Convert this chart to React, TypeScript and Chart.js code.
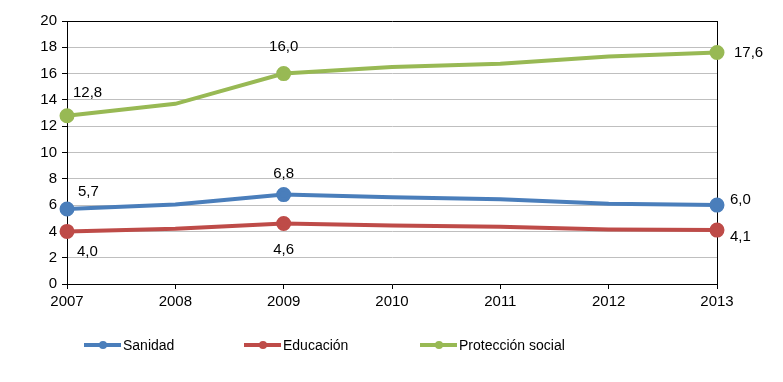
import React, { useEffect, useRef } from "react";
import { Chart, registerables } from "chart.js";

Chart.register(...registerables);

const years = ["2007", "2008", "2009", "2010", "2011", "2012", "2013"];
const sanidad = [5.7, 6.05, 6.8, 6.6, 6.45, 6.1, 6.0];
const educacion = [4.0, 4.2, 4.6, 4.45, 4.35, 4.15, 4.1];
const proteccion = [12.8, 13.7, 16.0, 16.5, 16.75, 17.3, 17.6];
const seriesNames = ["Sanidad", "Educación", "Protección social"];
const seriesColors = ["#4a7ebb", "#be4b48", "#98b954"];
const markerRadius = [5.5, 0, 5.5, 0, 0, 0, 5.5];

// label placement relative to the point: [series, index, dx, dy, align]
const valueLabels: [number, number, number, number, CanvasTextAlign][] = [
  [2, 0, 6, -23, "left"],
  [0, 0, 11, -17, "left"],
  [1, 0, 10, 20, "left"],
  [2, 2, 0, -27, "center"],
  [0, 2, 0, -21, "center"],
  [1, 2, 0, 26, "center"],
  [2, 6, 17, 0, "left"],
  [0, 6, 13, -5, "left"],
  [1, 6, 13, 7, "left"],
];

const FONT = "'Liberation Sans', Arial, sans-serif";

const labelPlugin = {
  id: "valueLabels",
  afterDatasetsDraw(chart: any) {
    const ctx = chart.ctx;
    ctx.save();
    ctx.font = `15px ${FONT}`;
    ctx.fillStyle = "#000";
    ctx.textBaseline = "middle";
    for (const [s, i, dx, dy, align] of valueLabels) {
      const pt = chart.getDatasetMeta(s).data[i];
      const v = chart.data.datasets[s].data[i] as number;
      ctx.textAlign = align;
      ctx.fillText(v.toFixed(1).replace(".", ","), pt.x + dx, pt.y + dy);
    }
    ctx.restore();
  },
};

const legendPlugin = {
  id: "customLegend",
  afterDraw(chart: any) {
    const ctx = chart.ctx;
    const starts = [84, 244, 420];
    const y = 345;
    ctx.save();
    ctx.font = `14px ${FONT}`;
    ctx.textBaseline = "middle";
    ctx.textAlign = "left";
    chart.data.datasets.forEach((ds: any, k: number) => {
      const x0 = starts[k];
      ctx.strokeStyle = ds.borderColor;
      ctx.lineWidth = 4;
      ctx.beginPath();
      ctx.moveTo(x0, y);
      ctx.lineTo(x0 + 37, y);
      ctx.stroke();
      ctx.fillStyle = ds.borderColor;
      ctx.beginPath();
      ctx.arc(x0 + 19, y, 4, 0, Math.PI * 2);
      ctx.fill();
      ctx.fillStyle = "#000";
      ctx.fillText(ds.label, x0 + 39, y + 1);
    });
    ctx.restore();
  },
};

export default function App() {
  const ref = useRef<HTMLCanvasElement>(null);
  useEffect(() => {
    document.body.style.margin = "0";
    const all = [sanidad, educacion, proteccion];
    const chart = new Chart(ref.current!, {
      type: "line",
      data: {
        labels: years,
        datasets: all.map((d, k) => ({
          label: seriesNames[k],
          data: d,
          borderColor: seriesColors[k],
          backgroundColor: seriesColors[k],
          pointBackgroundColor: seriesColors[k],
          pointBorderColor: seriesColors[k],
          borderWidth: 4,
          pointRadius: markerRadius,
          pointHoverRadius: markerRadius,
          tension: 0,
          fill: false,
        })),
      },
      options: {
        animation: false,
        responsive: false,
        events: [],
        layout: { padding: { left: 0, top: 21, right: 66, bottom: 0 } },
        plugins: { legend: { display: false }, tooltip: { enabled: false } },
        scales: {
          x: {
            offset: false,
            grid: {
              color: (c: any) => (c.index === years.length - 1 ? "#000" : "rgba(0,0,0,0)"),
              tickColor: "#000",
              tickLength: 5,
              lineWidth: 1,
            },
            border: { color: "#000", width: 1 },
            ticks: { color: "#000", font: { family: FONT, size: 15 }, padding: 4, maxRotation: 0, autoSkip: false },
            afterFit: (s: any) => {
              s.height = 98;
            },
          },
          y: {
            min: 0,
            max: 20,
            grid: {
              color: (c: any) => (c.tick && c.tick.value === 20 ? "#000" : "#bfbfbf"),
              tickColor: "#000",
              tickLength: 5,
              lineWidth: 1,
            },
            border: { color: "#000", width: 1 },
            ticks: { stepSize: 2, color: "#000", font: { family: FONT, size: 15 }, padding: 5 },
            afterFit: (s: any) => {
              s.width = 67;
            },
          },
        },
      },
      plugins: [labelPlugin, legendPlugin],
    });
    return () => chart.destroy();
  }, []);
  return (
    <div style={{ position: "absolute", left: 0, top: 0, width: 783, height: 382, background: "#fff" }}>
      <canvas ref={ref} width={783} height={382} />
    </div>
  );
}
